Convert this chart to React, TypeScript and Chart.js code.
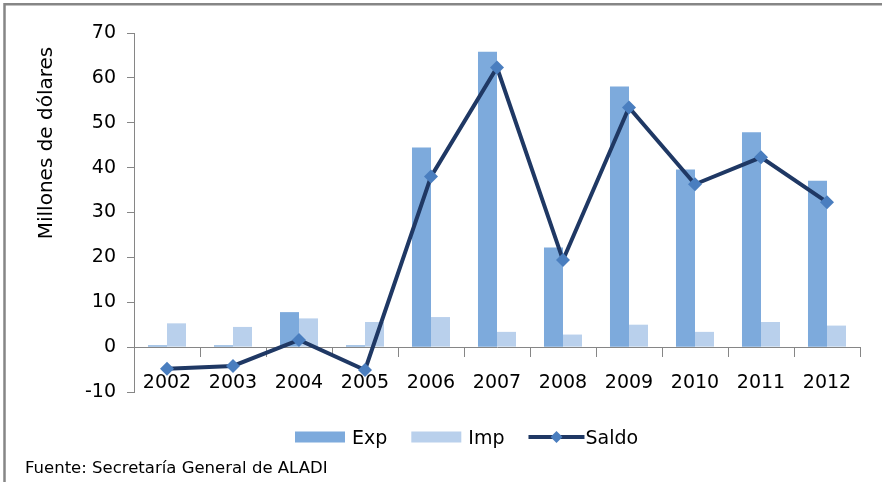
import React, { useEffect, useRef } from "react";
import { Chart, registerables } from "chart.js";

Chart.register(...registerables);

const years = ["2002", "2003", "2004", "2005", "2006", "2007", "2008", "2009", "2010", "2011", "2012"];
const expValues = [0.4, 0.4, 7.8, 0.4, 44.5, 65.8, 22.2, 58.1, 39.6, 47.9, 37.1];
const impValues = [5.3, 4.5, 6.4, 5.6, 6.7, 3.4, 2.8, 5.0, 3.4, 5.6, 4.8];
const saldoValues = [-4.8, -4.2, 1.6, -5.1, 38.0, 62.3, 19.4, 53.4, 36.3, 42.3, 32.3];
const seriesNames = ["Exp", "Imp", "Saldo"];
const yMin = -10;
const yMax = 70;
const yStep = 10;
const yTitle = "Millones de dólares";
const footerText = "Fuente: Secretaría General de ALADI";

const FONT = '"DejaVu Sans", sans-serif';
const AXIS_GRAY = "#868686";
const EXP_COLOR = "#7DAADC";
const IMP_COLOR = "#B9D0EC";
const LINE_COLOR = "#1F3864";
const MARKER_COLOR = "#4A7EBF";

function drawDiamond(ctx: CanvasRenderingContext2D, cx: number, cy: number, r: number) {
  ctx.beginPath();
  ctx.moveTo(cx, cy - r);
  ctx.lineTo(cx + r, cy);
  ctx.lineTo(cx, cy + r);
  ctx.lineTo(cx - r, cy);
  ctx.closePath();
  ctx.fill();
}

const decorPlugin = {
  id: "decor",
  beforeDraw(chart: any) {
    const ctx = chart.ctx as CanvasRenderingContext2D;
    ctx.save();
    ctx.fillStyle = "#ffffff";
    ctx.fillRect(0, 0, chart.width, chart.height);
    ctx.strokeStyle = AXIS_GRAY;
    ctx.lineWidth = 2.5;
    ctx.beginPath();
    ctx.moveTo(4.5, chart.height);
    ctx.lineTo(4.5, 4.3);
    ctx.lineTo(chart.width, 4.3);
    ctx.stroke();
    ctx.restore();
  },
  afterDraw(chart: any) {
    const ctx = chart.ctx as CanvasRenderingContext2D;
    // y axis title
    ctx.save();
    ctx.translate(47, 143);
    ctx.rotate(-Math.PI / 2);
    ctx.font = `20px ${FONT}`;
    ctx.fillStyle = "#000";
    ctx.textAlign = "center";
    ctx.textBaseline = "middle";
    ctx.fillText(yTitle, 0, 0);
    ctx.restore();

    // legend
    ctx.save();
    ctx.font = `19px ${FONT}`;
    ctx.fillStyle = "#000";
    ctx.textBaseline = "alphabetic";
    ctx.textAlign = "left";
    let x = 295;
    const cy = 437;
    chart.data.datasets.forEach((ds: any) => {
      if (ds.type === "line") {
        ctx.strokeStyle = ds.borderColor;
        ctx.lineWidth = 4;
        ctx.beginPath();
        ctx.moveTo(x, cy);
        ctx.lineTo(x + 56, cy);
        ctx.stroke();
        ctx.fillStyle = ds.pointBackgroundColor;
        drawDiamond(ctx, x + 28, cy, 6);
        x += 57;
      } else {
        ctx.fillStyle = ds.backgroundColor;
        ctx.fillRect(x, cy - 5.5, 50, 11);
        x += 57;
      }
      ctx.fillStyle = "#000";
      ctx.fillText(ds.label, x, cy + 7);
      x += ctx.measureText(ds.label).width + 24;
    });
    ctx.restore();

    // footer
    ctx.save();
    ctx.font = `16.5px ${FONT}`;
    ctx.fillStyle = "#000";
    ctx.textAlign = "left";
    ctx.textBaseline = "alphabetic";
    ctx.fillText(footerText, 25, 473);
    ctx.restore();
  },
};

export default function App() {
  const canvasRef = useRef<HTMLCanvasElement | null>(null);

  useEffect(() => {
    if (!canvasRef.current) return;
    const chart = new Chart(canvasRef.current, {
      type: "bar",
      data: {
        labels: years,
        datasets: [
          {
            type: "bar",
            label: seriesNames[0],
            data: expValues,
            backgroundColor: EXP_COLOR,
            borderWidth: 0,
            categoryPercentage: 0.576,
            barPercentage: 1,
            order: 1,
          },
          {
            type: "bar",
            label: seriesNames[1],
            data: impValues,
            backgroundColor: IMP_COLOR,
            borderWidth: 0,
            categoryPercentage: 0.576,
            barPercentage: 1,
            order: 1,
          },
          {
            type: "line",
            label: seriesNames[2],
            data: saldoValues,
            borderColor: LINE_COLOR,
            borderWidth: 4,
            tension: 0,
            pointStyle: "rectRot",
            pointRadius: 7,
            pointBackgroundColor: MARKER_COLOR,
            pointBorderColor: MARKER_COLOR,
            pointBorderWidth: 0,
            order: 0,
          } as any,
        ],
      },
      options: {
        responsive: false,
        animation: false,
        devicePixelRatio: 1,
        layout: { padding: { left: 0, top: 33, right: 22, bottom: 90 } },
        plugins: {
          legend: { display: false },
          tooltip: { enabled: false },
          title: { display: false },
        },
        scales: {
          x: {
            position: { y: 0 } as any,
            offset: true,
            grid: {
              offset: true,
              drawOnChartArea: false,
              drawTicks: true,
              tickLength: 9,
              color: AXIS_GRAY,
            },
            border: { color: AXIS_GRAY, width: 1 },
            ticks: {
              font: { family: FONT, size: 19 },
              color: "#000",
              padding: 16,
              maxRotation: 0,
              autoSkip: false,
            },
          },
          y: {
            min: yMin,
            max: yMax,
            grid: {
              drawOnChartArea: false,
              drawTicks: true,
              tickLength: 7,
              color: AXIS_GRAY,
            },
            border: { color: AXIS_GRAY, width: 1 },
            ticks: {
              stepSize: yStep,
              font: { family: FONT, size: 19 },
              color: "#000",
              padding: 11,
            },
            afterFit: (scale: any) => {
              scale.width = 134;
            },
          },
        },
      },
      plugins: [decorPlugin],
    });
    return () => chart.destroy();
  }, []);

  return (
    <div style={{ position: "absolute", left: 0, top: 0, width: 882, height: 482, background: "#fff" }}>
      <canvas ref={canvasRef} width={882} height={482} style={{ display: "block" }} />
    </div>
  );
}
